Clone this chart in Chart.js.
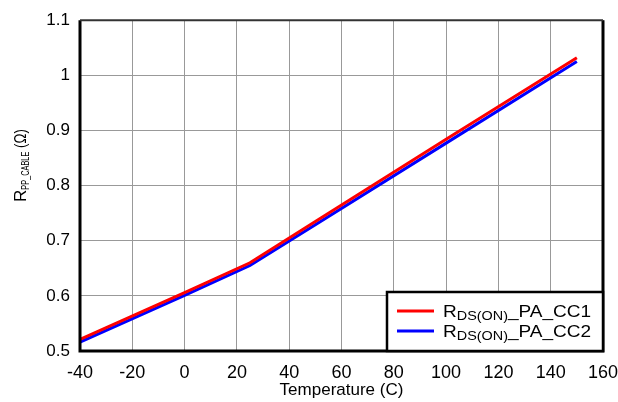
<!DOCTYPE html>
<html>
<head>
<meta charset="utf-8">
<script src="https://cdn.jsdelivr.net/npm/chart.js@4"></script>
<style>
  html, body { margin: 0; padding: 0; background: #fff; }
  #wrap { width: 618px; height: 402px; }
</style>
</head>
<body>
<div id="wrap"><canvas id="chart" width="618" height="402"></canvas></div>
<script>
// temperature points (C)
const temps = [-40, 0, 25, 50, 100, 150];
const rCC1 = [0.521, 0.606, 0.660, 0.735, 0.884, 1.032];
const rCC2 = [0.516, 0.601, 0.655, 0.729, 0.877, 1.025];
const xTicks = [-40, -20, 0, 20, 40, 60, 80, 100, 120, 140, 160];
const yTicks = [0.5, 0.6, 0.7, 0.8, 0.9, 1, 1.1];
const seriesNames = ['CC1', 'CC2'];
const seriesColors = ['#ff0000', '#0000ff'];

const FONT = '"Liberation Sans", Arial, sans-serif';

// draws text pieces one after another on one baseline
// each piece: [text, fontSize, horizontal stretch, baseline shift]
function drawPieces(ctx, x, y, pieces) {
  pieces.forEach(([txt, size, sx, dy]) => {
    ctx.font = size + 'px ' + FONT;
    const w = ctx.measureText(txt).width;
    ctx.save();
    ctx.translate(x, y + dy);
    ctx.scale(sx, 1);
    ctx.fillText(txt, 0, 0);
    ctx.restore();
    x += w * sx;
  });
  return x;
}

const extras = {
  id: 'extras',
  afterDraw(chart) {
    const ctx = chart.ctx;
    const a = chart.chartArea;
    ctx.save();
    // frame
    ctx.strokeStyle = '#000';
    ctx.lineWidth = 3;
    ctx.beginPath();
    ctx.moveTo(a.left, a.top);
    ctx.lineTo(a.left, a.bottom);
    ctx.lineTo(a.right, a.bottom);
    ctx.lineTo(a.right, a.top);
    ctx.stroke();
    ctx.strokeStyle = '#333';
    ctx.lineWidth = 2;
    ctx.beginPath();
    ctx.moveTo(a.left, a.top);
    ctx.lineTo(a.right, a.top);
    ctx.stroke();

    // y axis title, rotated
    ctx.fillStyle = '#000';
    ctx.textBaseline = 'alphabetic';
    ctx.translate(26, 202);
    ctx.rotate(-Math.PI / 2);
    drawPieces(ctx, 0, 0, [
      ['R', 17, 1, 0],
      ['PP_CABLE', 11, 0.67, 3],
      [' (\u03A9)', 17, 0.78, 0]
    ]);
    ctx.setTransform(1, 0, 0, 1, 0, 0);

    // legend box
    const bx = 387, by = 292, bw = a.right - 387, bh = a.bottom - 292;
    ctx.fillStyle = '#fff';
    ctx.fillRect(bx, by, bw, bh);
    ctx.strokeStyle = '#000';
    ctx.lineWidth = 2.5;
    ctx.strokeRect(bx, by, bw, bh);
    seriesNames.forEach((n, i) => {
      const ly = 311 + i * 20;
      ctx.strokeStyle = seriesColors[i];
      ctx.lineWidth = 3;
      ctx.beginPath();
      ctx.moveTo(397, ly);
      ctx.lineTo(434, ly);
      ctx.stroke();
      ctx.fillStyle = '#000';
      drawPieces(ctx, 443, ly + 6, [
        ['R', 17, 1.12, 0],
        ['DS(ON)', 12, 1.2, 3],
        ['_PA_' + n, 17, 1.12, 0]
      ]);
    });
    ctx.restore();
  }
};

new Chart(document.getElementById('chart'), {
  type: 'line',
  data: {
    datasets: [
      {
        label: 'CC1',
        data: temps.map((t, i) => ({ x: t, y: rCC1[i] })),
        borderColor: seriesColors[0],
        borderWidth: 3,
        pointRadius: 0,
        tension: 0
      },
      {
        label: 'CC2',
        data: temps.map((t, i) => ({ x: t, y: rCC2[i] })),
        borderColor: seriesColors[1],
        borderWidth: 3,
        pointRadius: 0,
        tension: 0
      }
    ]
  },
  options: {
    responsive: false,
    animation: false,
    layout: { padding: { left: 0, right: 15, top: 15, bottom: 0 } },
    scales: {
      x: {
        type: 'linear',
        min: -40,
        max: 160,
        afterBuildTicks: (s) => { s.ticks = xTicks.map(v => ({ value: v })); },
        afterFit: (s) => {
          s.height = 51;
          // tick padding should not eat into the plot width
          s.paddingLeft = 0;
          s.paddingRight = 0;
        },
        ticks: {
          color: '#000',
          font: { family: FONT, size: 18 },
          padding: 11,
          maxRotation: 0
        },
        grid: { color: '#999', lineWidth: 1, drawTicks: false },
        border: { display: false },
        title: {
          display: true,
          text: 'Temperature (C)',
          color: '#000',
          font: { family: FONT, size: 17 },
          padding: { top: 0, bottom: 1 }
        }
      },
      y: {
        min: 0.5,
        max: 1.1,
        afterBuildTicks: (s) => { s.ticks = yTicks.map(v => ({ value: v })); },
        afterFit: (s) => { s.width = 80; },
        ticks: {
          color: '#000',
          font: { family: FONT, size: 17 },
          padding: 10,
          callback: (v) => String(Math.round(v * 10) / 10)
        },
        grid: { color: '#999', lineWidth: 1, drawTicks: false },
        border: { display: false }
      }
    },
    plugins: {
      legend: { display: false },
      tooltip: { enabled: false }
    }
  },
  plugins: [extras]
});
</script>
</body>
</html>
